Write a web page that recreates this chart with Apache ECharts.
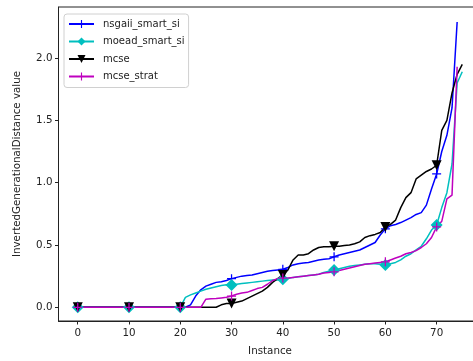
<!DOCTYPE html>
<html>
<head>
<meta charset="utf-8">
<script src="https://cdn.jsdelivr.net/npm/echarts@6/dist/echarts.min.js"></script>
<style>
  html, body { margin: 0; padding: 0; background: #fff; overflow: hidden; width: 473px; height: 361px; }
  /* the axes box runs a little past the right edge of the page, so the drawing is wider than the view */
  #chart { width: 482px; height: 361px; }
</style>
</head>
<body>
<div id="chart"></div>
<script>
// IGD value per instance (instances sorted by value), one array per algorithm
const nsgaiiSmartSi = [
  0,0,0,0,0,0,0,0,0,0,
  0,0,0,0,0,0,0,0,0,0,
  0,0,0.02,0.09,0.14,0.17,0.185,0.2,0.205,0.215,
  0.23,0.24,0.25,0.255,0.26,0.27,0.28,0.29,0.295,0.3,
  0.305,0.32,0.34,0.35,0.355,0.36,0.37,0.38,0.385,0.39,
  0.405,0.42,0.43,0.44,0.45,0.46,0.48,0.5,0.52,0.58,
  0.63,0.655,0.665,0.68,0.7,0.72,0.745,0.76,0.82,0.95,
  1.07,1.25,1.38,1.6,2.29
];
const moeadSmartSi = [
  0,0,0,0,0,0,0,0,0,0,
  0,0,0,0,0,0,0,0,0,0,
  0,0.08,0.1,0.115,0.13,0.145,0.155,0.165,0.175,0.18,
  0.178,0.185,0.19,0.195,0.2,0.205,0.21,0.215,0.22,0.22,
  0.225,0.23,0.24,0.245,0.25,0.255,0.26,0.265,0.28,0.29,
  0.3,0.31,0.32,0.33,0.335,0.34,0.345,0.35,0.35,0.345,
  0.34,0.35,0.36,0.38,0.41,0.43,0.46,0.49,0.55,0.62,
  0.66,0.8,0.92,1.15,1.8,1.89
];
const mcse = [
  0,0,0,0,0,0,0,0,0,0,
  0,0,0,0,0,0,0,0,0,0,
  0,0,0,0,0,0,0,0,0.02,0.03,
  0.03,0.04,0.05,0.07,0.09,0.11,0.13,0.16,0.2,0.23,
  0.26,0.3,0.38,0.42,0.42,0.43,0.46,0.48,0.485,0.485,
  0.49,0.49,0.495,0.5,0.51,0.525,0.56,0.575,0.585,0.6,
  0.645,0.665,0.7,0.8,0.88,0.92,1.03,1.06,1.09,1.11,
  1.14,1.42,1.5,1.72,1.87,1.95
];
const mcseStrat = [
  0,0,0,0,0,0,0,0,0,0,
  0,0,0,0,0,0,0,0,0,0,
  0,0,0,0,0,0.065,0.068,0.07,0.075,0.08,
  0.09,0.105,0.115,0.12,0.135,0.15,0.16,0.185,0.215,0.23,
  0.235,0.235,0.24,0.245,0.25,0.255,0.26,0.265,0.275,0.28,
  0.285,0.295,0.305,0.315,0.325,0.335,0.345,0.35,0.355,0.36,
  0.365,0.38,0.395,0.41,0.43,0.44,0.455,0.48,0.51,0.56,
  0.645,0.69,0.87,0.9,1.93
];

const seriesNames = ['nsgaii_smart_si', 'moead_smart_si', 'mcse', 'mcse_strat'];
const xTicks = [0, 10, 20, 30, 40, 50, 60, 70];
const yTicks = [0, 0.5, 1.0, 1.5, 2.0];

const FONT = 'DejaVu Sans';
const FS = 10.3;
const PLUS = 'path://M4.3,0h1.4v4.3h4.3v1.4h-4.3v4.3h-1.4v-4.3h-4.3v-1.4h4.3z';

// markers are drawn on every 10th instance only
function withMarkers(values) {
  return values.map((v, i) => (i % 10 === 0 ? [i, v] : { value: [i, v], symbol: 'none' }));
}

function lineSeries(name, values, color, symbol, symbolSize, rotate) {
  return {
    name: name,
    type: 'line',
    data: withMarkers(values),
    symbol: symbol,
    symbolSize: symbolSize,
    symbolRotate: rotate || 0,
    showAllSymbol: true,
    lineStyle: { color: color, width: 1.5 },
    itemStyle: { color: color, borderWidth: 0 },
    emphasis: { disabled: true },
    animation: false
  };
}

const chart = echarts.init(document.getElementById('chart'), null, { renderer: 'canvas' });

chart.setOption({
  backgroundColor: '#fff',
  animation: false,
  grid: {
    left: 58.5, right: 0.5, top: 7, bottom: 39,
    show: true, borderColor: '#222', borderWidth: 1, backgroundColor: 'transparent'
  },
  xAxis: {
    type: 'value',
    min: -3.75,
    max: 78.75,
    name: 'Instance',
    nameLocation: 'middle',
    nameGap: 25,
    nameTextStyle: { fontFamily: FONT, fontSize: FS, color: '#222' },
    axisLine: { show: true, onZero: false, lineStyle: { color: '#222', width: 1 } },
    axisTick: { show: true, customValues: xTicks, length: 3.5, lineStyle: { color: '#222' } },
    axisLabel: { customValues: xTicks, fontFamily: FONT, fontSize: FS, color: '#222', margin: 7 },
    splitLine: { show: false }
  },
  yAxis: {
    type: 'value',
    min: -0.11,
    max: 2.41,
    name: 'InvertedGenerationalDistance value',
    nameLocation: 'middle',
    nameGap: 36,
    nameTextStyle: { fontFamily: FONT, fontSize: FS, color: '#222' },
    axisLine: { show: true, onZero: false, lineStyle: { color: '#222', width: 1 } },
    axisTick: { show: true, customValues: yTicks, length: 3.5, lineStyle: { color: '#222' } },
    axisLabel: {
      customValues: yTicks, fontFamily: FONT, fontSize: FS, color: '#222', margin: 6,
      formatter: v => v.toFixed(1)
    },
    splitLine: { show: false }
  },
  legend: {
    orient: 'vertical',
    left: 64,
    top: 14,
    padding: [3, 4, 4, 4],
    itemWidth: 25,
    itemHeight: 10,
    itemGap: 3.5,
    borderColor: '#d0d0d0',
    borderWidth: 1,
    borderRadius: 3,
    backgroundColor: 'rgba(255,255,255,0.8)',
    data: seriesNames,
    textStyle: { fontFamily: FONT, fontSize: 10, color: '#222', lineHeight: 14, padding: [0, 0, 0, 4] }
  },
  series: [
    lineSeries(seriesNames[0], nsgaiiSmartSi, '#0000ff', PLUS, 9),
    lineSeries(seriesNames[1], moeadSmartSi, '#00bfbf', 'diamond', 12),
    lineSeries(seriesNames[2], mcse, '#000000', 'triangle', 10, 180),
    lineSeries(seriesNames[3], mcseStrat, '#bf00bf', PLUS, 9)
  ]
});
</script>
</body>
</html>
